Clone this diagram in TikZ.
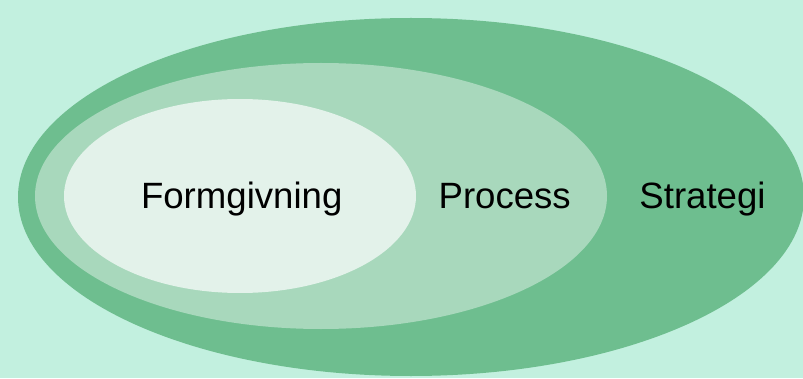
\documentclass[tikz,border=0pt]{standalone}
\usepackage{fontspec}
\setmainfont{Liberation Sans}
\usetikzlibrary{shapes.geometric}

\definecolor{bgmint}{RGB}{194,240,223}
\definecolor{outergreen}{RGB}{110,190,143}
\definecolor{midgreen}{RGB}{168,216,188}
\definecolor{innergreen}{RGB}{227,242,234}

\begin{document}
\begin{tikzpicture}
      [
        x = 1pt, y = 1pt,
        area/.style = {ellipse, inner sep = 0pt, draw = none},
        label/.style = {anchor = base, inner sep = 0pt, font = \fontsize{36.6}{44}\selectfont},
      ]

      \fill[bgmint] (0,0) rectangle (803,378);
      \clip (0,0) rectangle (803,378);

      \node[area, fill=outergreen, minimum width = 786pt, minimum height = 358pt] (strategi) at (411,181) {};
      \node[area, fill=midgreen, minimum width = 572pt, minimum height = 266pt] (process) at (321,182) {};
      \node[area, fill=innergreen, minimum width = 352pt, minimum height = 194pt] (formgivning) at (240,182) {};

      \node[label] (formgivningtext) at (241.7,169) {Formgivning};
      \node[label] (processtext) at (504.7,169) {Process};
      \node[label] (strategitext) at (702.5,169) {Strategi};

    \end{tikzpicture}
\end{document}
